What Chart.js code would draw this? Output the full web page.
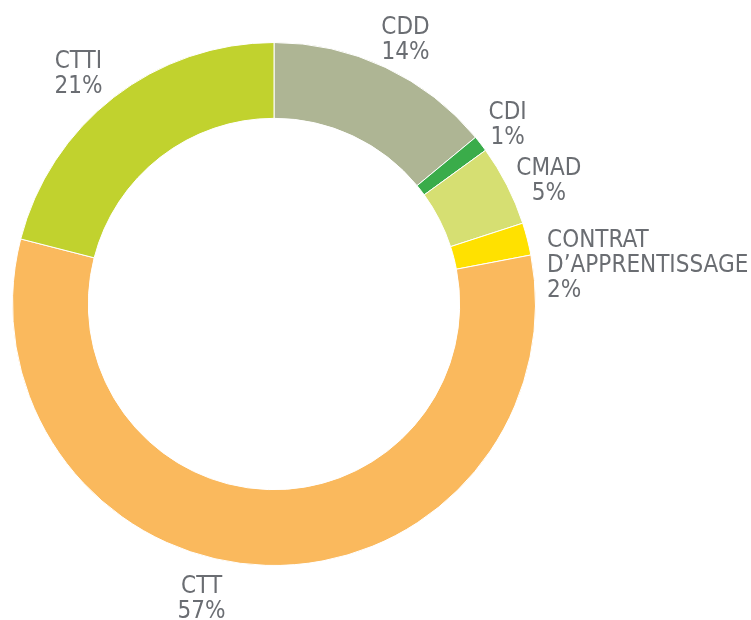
<!DOCTYPE html>
<html>
<head>
<meta charset="utf-8">
<script src="https://cdn.jsdelivr.net/npm/chart.js@4.4.1/dist/chart.umd.min.js"></script>
<style>
  html, body { margin: 0; padding: 0; background: #fff; }
  #wrap { width: 751px; height: 620px; }
</style>
</head>
<body>
<div id="wrap"><canvas id="graficoContrats" width="751" height="620"></canvas></div>
<script>
// données du graphique
const categories = ["CDD", "CDI", "CMAD", "CONTRAT\nD\u2019APPRENTISSAGE", "CTT", "CTTI"];
const valeurs = [14, 1, 5, 2, 57, 21];
const etiquettes = ["14%", "1%", "5%", "2%", "57%", "21%"];
const couleurs = ["#aeb594", "#3aac4a", "#d6df72", "#ffe100", "#fab95d", "#c1d22e"];

// décalage des étiquettes (dx, dy, alignement)
const decalages = [
    [4, 4, "center"],
    [-3, 2, "center"],
    [8, 10, "center"],
    [-17, 33, "left"],
    [-63, -7, "center"],
    [-12, 4, "center"]
];

const FONT = "24px 'DejaVu Sans Condensed', 'DejaVu Sans', sans-serif";
const LIGNE = 25;

const pluginEtiquettes = {
    id: "etiquettes",
    afterDatasetsDraw(chart) {
        const ctx = chart.ctx;
        const arcs = chart.getDatasetMeta(0).data;
        ctx.save();
        ctx.font = FONT;
        ctx.fillStyle = "#6a6d72";
        ctx.textBaseline = "alphabetic";
        arcs.forEach(function (arc, i) {
            const p = arc.getProps(["x", "y", "startAngle", "endAngle", "outerRadius"], true);
            const mid = (p.startAngle + p.endAngle) / 2;
            const r = p.outerRadius + 38;
            const d = decalages[i];
            const cx = p.x + Math.cos(mid) * r + d[0];
            const cy = p.y + Math.sin(mid) * r + d[1];
            const lignes = categories[i].split("\n").concat([etiquettes[i]]);
            ctx.textAlign = d[2];
            lignes.forEach(function (txt, k) {
                const y = cy + (k - (lignes.length - 1) / 2) * LIGNE + 9;
                ctx.fillText(txt, cx, y);
            });
        });
        ctx.restore();
    }
};

const canvas = document.getElementById("graficoContrats");
new Chart(canvas.getContext("2d"), {
    type: "doughnut",
    data: {
        labels: categories,
        datasets: [{
            data: valeurs,
            backgroundColor: couleurs,
            borderColor: "#ffffff",
            borderWidth: 1
        }]
    },
    options: {
        responsive: false,
        animation: false,
        cutout: "71%",
        layout: { padding: { top: 42, bottom: 54, left: 12, right: 215 } },
        plugins: {
            legend: { display: false },
            tooltip: { enabled: false }
        }
    },
    plugins: [pluginEtiquettes]
});
</script>
</body>
</html>
